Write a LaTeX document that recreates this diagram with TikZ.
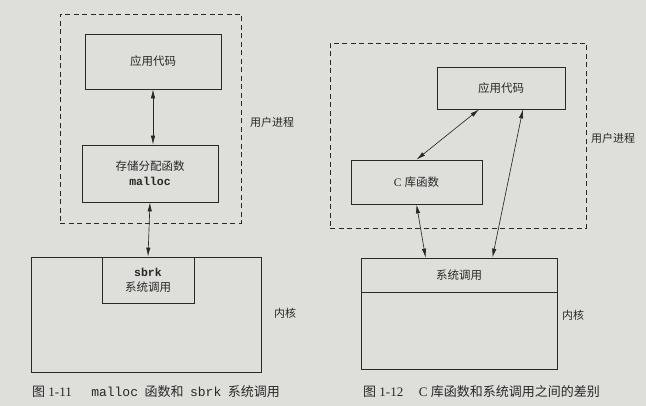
\documentclass[tikz,border=0pt]{standalone}
\usepackage{fontspec}
\setmainfont{Liberation Serif}
\setmonofont{Liberation Mono}
\newfontfamily\zhfont{Noto Sans CJK SC}
\newcommand{\zh}[1]{{\zhfont #1}}
\usetikzlibrary{arrows.meta,calc}
\definecolor{paper}{RGB}{222,222,218}
\definecolor{ink}{RGB}{40,40,40}
\tikzset{
  box/.style={draw=ink, line width=0.75pt, rectangle, inner sep=0pt, align=center,
    text=ink, font=\fontsize{11.5}{14}\selectfont},
  zone/.style={draw=ink, line width=0.75pt, dash pattern=on 5pt off 3.5pt, rectangle, inner sep=0pt},
  link/.style={draw=ink, line width=0.65pt,
    {Latex[length=9pt,width=4.4pt]}-{Latex[length=9pt,width=4.4pt]}},
  tag/.style={text=ink, font=\fontsize{11}{12}\selectfont, inner sep=0pt},
  caption/.style={text=ink, font=\fontsize{13}{15}\selectfont, inner sep=0pt, anchor=west}
}
\begin{document}
\begin{tikzpicture}[x=1pt,y=-1pt]
  \fill[paper] (0,0) rectangle (646,406);
  \useasboundingbox (0,0) rectangle (646,406);

  % ---- malloc and sbrk ----
  \node[zone, minimum width=181pt, minimum height=209pt] (userA) at (150.5,118.5) {};
  \node[box, minimum width=136pt, minimum height=55pt] (appA) at (153,61.5) {\zh{应用代码}};
  \node[box, minimum width=136pt, minimum height=57pt] (mall) at (150,173.5)
    {\zh{存储分配函数}\\[1pt]\texttt{\bfseries malloc}};
  \node[box, minimum width=230pt, minimum height=115pt] (kernA) at (146,314.5) {};
  \node[box, minimum width=92pt, minimum height=46pt] (sbrk) at (148,280)
    {\texttt{\bfseries sbrk}\\[1pt]\zh{系统调用}};
  \draw[link] (appA.south) -- (appA.south |- mall.north);
  \draw[link] (mall.south) -- (sbrk.north);
  \node[tag, anchor=west] (userAlbl) at (250,122) {\zh{用户进程}};
  \node[tag] (kernAlbl) at (285,313) {\zh{内核}};
  \node[caption] (capA) at (32,392)
    {\zh{图} 1-11\hspace{1.5em}\texttt{malloc}\hspace{0.5em}\zh{函数和}\hspace{0.5em}\texttt{sbrk}\hspace{0.5em}\zh{系统调用}};

  % ---- C library and system calls ----
  \node[zone, minimum width=256pt, minimum height=185pt] (userB) at (458,135.5) {};
  \node[box, minimum width=128pt, minimum height=42pt] (appB) at (501,88) {\zh{应用代码}};
  \node[box, minimum width=131pt, minimum height=44pt] (clib) at (416.5,182) {C \zh{库函数}};
  \node[box, minimum width=196pt, minimum height=111pt] (kernB) at (459,313.5) {};
  \node[box, minimum width=196pt, minimum height=34pt] (sysB) at (459,275) {\zh{系统调用}};
  \draw[link] ($(appB.south west)!0.33!(appB.south east)$) -- (clib.north);
  \draw[link] ($(appB.south west)!0.67!(appB.south east)$) -- ($(sysB.north west)!0.67!(sysB.north east)$);
  \draw[link] (clib.south) -- ($(sysB.north west)!0.33!(sysB.north east)$);
  \node[tag, anchor=west] (userBlbl) at (591,138) {\zh{用户进程}};
  \node[tag] (kernBlbl) at (573,315) {\zh{内核}};
  \node[caption] (capB) at (363,392)
    {\zh{图} 1-12\hspace{1.2em}C \zh{库函数和系统调用之间的差别}};
\end{tikzpicture}
\end{document}
